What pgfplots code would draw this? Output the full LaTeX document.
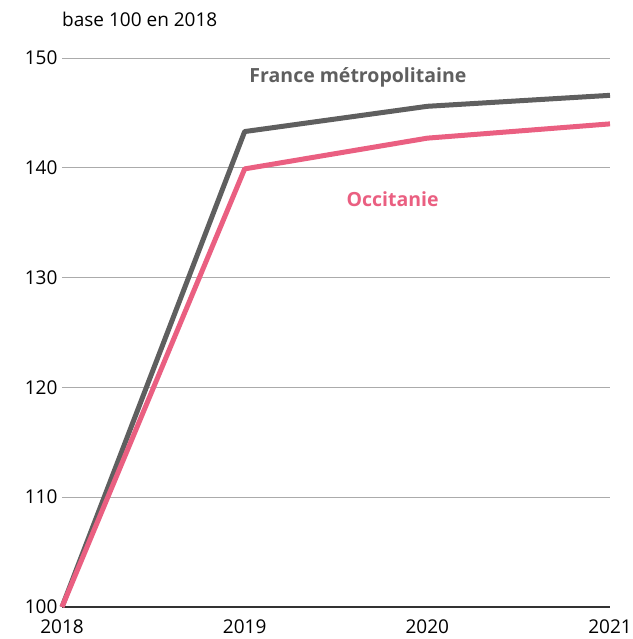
\documentclass[border=0pt]{standalone}
\usepackage{fontspec}
\setmainfont{Open Sans}
\usepackage{pgfplots}
\pgfplotsset{compat=1.18}
\definecolor{fr}{HTML}{5F5F5F}
\definecolor{occ}{HTML}{EA5F81}
\begin{document}
\begin{tikzpicture}
\useasboundingbox (-62pt,-32pt) rectangle (570pt,607pt);
\begin{axis}[
  at={(0,0)}, anchor=south west,
  scale only axis, width=548pt, height=549pt,
  xmin=2018, xmax=2021, ymin=100, ymax=150,
  xtick={2018,2019,2020,2021},
  ytick={110,120,130,140,150},
  extra y ticks={100},
  extra y tick style={grid style={draw=black!80, line width=1.2pt}},
  /pgf/number format/assume math mode=true,
  xticklabel style={/pgf/number format/1000 sep={}, font=\fontsize{19}{22}\selectfont, yshift=-9pt},
  yticklabel style={font=\fontsize{19}{22}\selectfont, xshift=-1pt},
  axis x line*=bottom, axis y line*=left,
  x axis line style={draw=none},
  y axis line style={draw=none},
  major tick length=0pt,
  ymajorgrids, grid style={draw=black!33, line width=0.8pt},
  clip=false,
]
\addplot[fr, line width=5pt, line join=round] coordinates {(2018,100) (2019,143.3) (2020,145.6) (2021,146.6)};
\addplot[occ, line width=5pt, line join=round] coordinates {(2018,100) (2019,139.9) (2020,142.7) (2021,144.0)};
\node[font=\bfseries\fontsize{19.5}{22}\selectfont, text=fr] at (axis cs:2019.62,148.2) {France métropolitaine};
\node[font=\bfseries\fontsize{19.5}{22}\selectfont, text=occ] at (axis cs:2019.81,137.1) {Occitanie};
\node[font=\fontsize{19}{22}\selectfont, anchor=west, inner sep=0pt] at (axis cs:2018,153.5) {base 100 en 2018};
\end{axis}
\end{tikzpicture}
\end{document}
